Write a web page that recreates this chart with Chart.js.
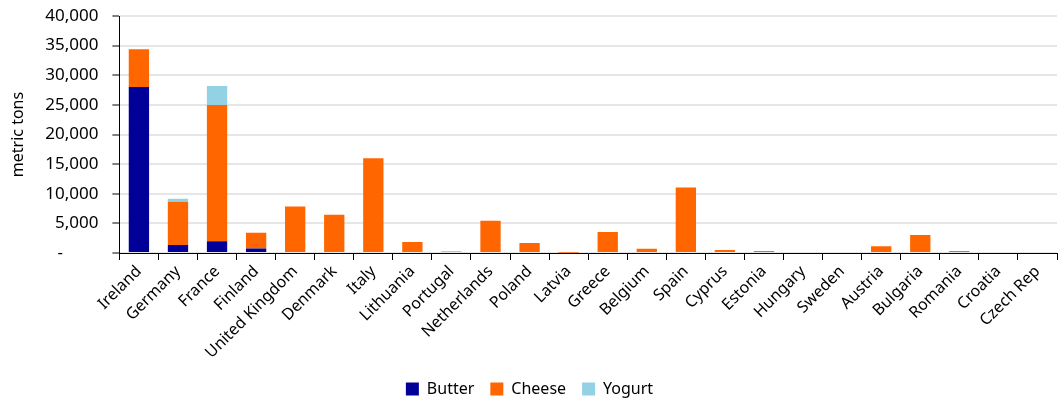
<!DOCTYPE html>
<html>
<head>
<meta charset="utf-8">
<script src="https://cdn.jsdelivr.net/npm/chart.js@4.4.0/dist/chart.umd.min.js"></script>
<style>
  html, body { margin: 0; padding: 0; background: #fff; }
  #wrap { width: 1064px; height: 403px; }
</style>
</head>
<body>
<div id="wrap"><canvas id="grafica"></canvas></div>
<script>
const paises = ['Ireland', 'Germany', 'France', 'Finland', 'United Kingdom', 'Denmark', 'Italy',
  'Lithuania', 'Portugal', 'Netherlands', 'Poland', 'Latvia', 'Greece', 'Belgium', 'Spain',
  'Cyprus', 'Estonia', 'Hungary', 'Sweden', 'Austria', 'Bulgaria', 'Romania', 'Croatia', 'Czech Rep'];
const butter = [28000, 1350, 2000, 750, 150, 0, 0, 0, 0, 0, 0, 0, 0, 0, 0, 0, 0, 0, 0, 0, 0, 0, 0, 0];
const cheese = [6400, 7300, 23000, 2650, 7700, 6450, 16000, 1850, 250, 5450, 1700, 50, 3550, 730, 11050,
  500, 330, 0, 0, 1130, 3050, 330, 0, 0];
const yogurt = [0, 500, 3200, 0, 0, 0, 0, 0, 0, 0, 0, 0, 0, 0, 0, 0, 0, 0, 0, 0, 0, 0, 0, 0];

const fuente = "'Noto Sans', 'Open Sans', sans-serif";

new Chart(document.getElementById('grafica'), {
  type: 'bar',
  data: {
    labels: paises,
    datasets: [
      { label: 'Butter', data: butter, backgroundColor: '#000099' },
      { label: 'Cheese', data: cheese, backgroundColor: '#FF6600' },
      { label: 'Yogurt', data: yogurt, backgroundColor: '#92D2E4' }
    ]
  },
  options: {
    responsive: true,
    maintainAspectRatio: false,
    animation: false,
    layout: { padding: { top: 16, right: 7, left: 2, bottom: -4 } },
    datasets: {
      bar: { barPercentage: 0.52, categoryPercentage: 1 }
    },
    plugins: {
      legend: {
        position: 'bottom',
        labels: {
          boxWidth: 13, boxHeight: 13, padding: 16,
          color: '#000', font: { family: fuente, size: 16 }
        }
      },
      tooltip: { enabled: false }
    },
    scales: {
      x: {
        stacked: true,
        afterFit: (escala) => { escala.height = 112; },
        grid: { drawOnChartArea: false, color: '#000', tickLength: 7 },
        border: { color: '#000', width: 1 },
        ticks: {
          color: '#000', maxRotation: 45, minRotation: 45, padding: 2,
          font: { family: fuente, size: 16 }
        }
      },
      y: {
        stacked: true,
        min: 0, max: 40000,
        afterFit: (escala) => { escala.paddingTop = 0; escala.paddingBottom = 0; },
        grid: { color: '#e6e6e6', lineWidth: 2, tickColor: '#000', tickLength: 7, tickWidth: 1 },
        border: { color: '#000', width: 1 },
        title: {
          display: true, text: 'metric tons', color: '#000',
          font: { family: fuente, size: 16 }, padding: { top: 7, bottom: 3 }
        },
        ticks: {
          stepSize: 5000, color: '#000', padding: 14,
          font: { family: fuente, size: 17 },
          callback: v => v === 0 ? '-        ' : v.toLocaleString('en-US')
        }
      }
    }
  }
});
</script>
</body>
</html>
